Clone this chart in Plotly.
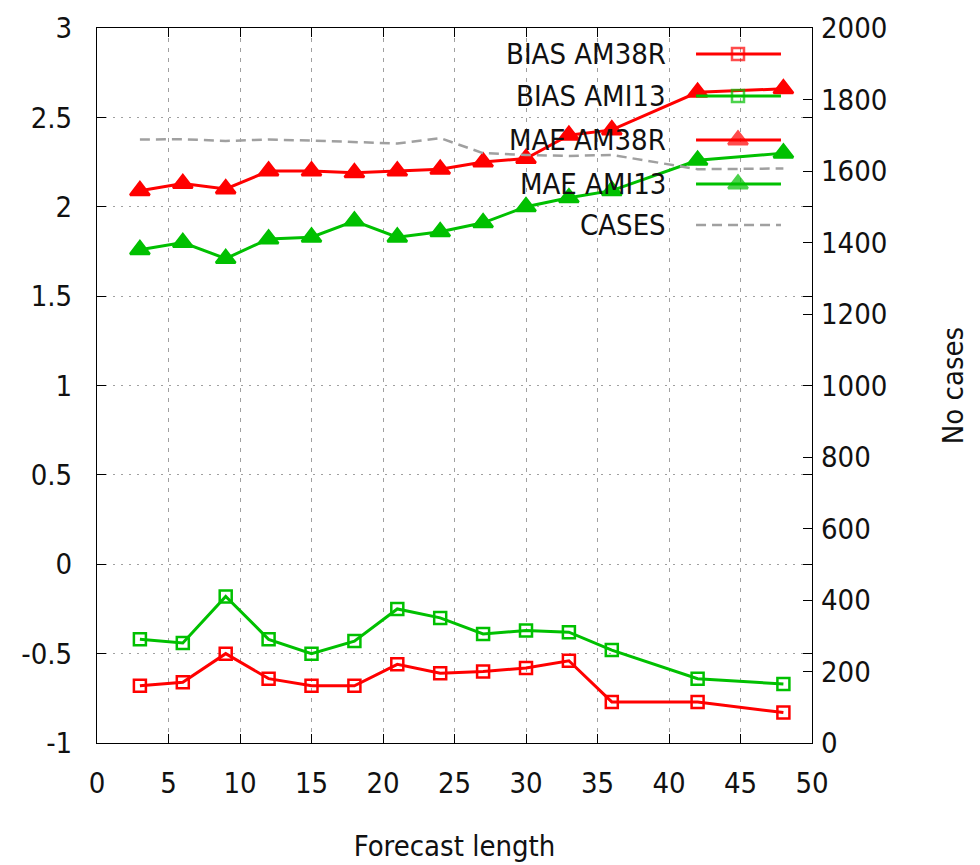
import plotly.graph_objects as go

# ---------------- data ----------------
forecast_length = [3, 6, 9, 12, 15, 18, 21, 24, 27, 30, 33, 36, 42, 48]
bias_am38r = [-0.68, -0.66, -0.50, -0.64, -0.68, -0.68, -0.56, -0.61, -0.60, -0.58, -0.54, -0.77, -0.77, -0.83]
bias_ami13 = [-0.42, -0.44, -0.18, -0.42, -0.50, -0.43, -0.25, -0.30, -0.39, -0.37, -0.38, -0.48, -0.64, -0.67]
mae_am38r = [2.09, 2.13, 2.10, 2.20, 2.20, 2.19, 2.20, 2.21, 2.25, 2.27, 2.40, 2.43, 2.64, 2.66]
mae_ami13 = [1.76, 1.80, 1.71, 1.82, 1.83, 1.92, 1.83, 1.86, 1.91, 2.00, 2.05, 2.09, 2.26, 2.30]
cases = [1688, 1689, 1684, 1688, 1685, 1680, 1677, 1692, 1650, 1645, 1642, 1645, 1605, 1607]

left_ticks = [-1, -0.5, 0, 0.5, 1, 1.5, 2, 2.5, 3]
left_tick_text = ["-1", "-0.5", "0", "0.5", "1", "1.5", "2", "2.5", "3"]
right_ticks = [0, 200, 400, 600, 800, 1000, 1200, 1400, 1600, 1800, 2000]
x_ticks = [0, 5, 10, 15, 20, 25, 30, 35, 40, 45, 50]

RED = "#ff0000"
GREEN = "#00c000"
GRAY = "#a0a0a0"
FONT = "DejaVu Sans Condensed, DejaVu Sans, sans-serif"
FS = 29

series = [
    dict(name="BIAS AM38R", y=bias_am38r, color=RED, symbol="square-open", size=12, axis="y", dash="solid"),
    dict(name="BIAS AMI13", y=bias_ami13, color=GREEN, symbol="square-open", size=12, axis="y", dash="solid"),
    dict(name="MAE AM38R", y=mae_am38r, color=RED, symbol="triangle-up", size=17, axis="y", dash="solid"),
    dict(name="MAE AMI13", y=mae_ami13, color=GREEN, symbol="triangle-up", size=17, axis="y", dash="solid"),
    dict(name="CASES", y=cases, color=GRAY, symbol=None, size=0, axis="y2", dash="10px,6px"),
]

fig = go.Figure()
for s in series:
    if s["symbol"]:
        fig.add_trace(go.Scatter(
            x=forecast_length, y=s["y"], name=s["name"], yaxis=s["axis"],
            mode="lines+markers",
            line=dict(color=s["color"], width=3, dash=s["dash"]),
            marker=dict(symbol=s["symbol"], size=s["size"], color=s["color"],
                        line=dict(color=s["color"], width=2.5)),
            showlegend=False))
    else:
        fig.add_trace(go.Scatter(
            x=forecast_length, y=s["y"], name=s["name"], yaxis=s["axis"],
            mode="lines", line=dict(color=s["color"], width=2.5, dash=s["dash"]),
            showlegend=False))

# ---------------- custom gnuplot-style key (text left, sample right) ----------------
key_text_x = 0.7986
key_x0, key_xm, key_x1 = 0.8378, 0.8965, 0.9566
key_rows = [0.9636, 0.9049, 0.8434, 0.7818, 0.7245]
for s, ky in zip(series, key_rows):
    fig.add_annotation(x=key_text_x, y=ky, xref="paper", yref="paper", text=s["name"],
                       showarrow=False, xanchor="right", yanchor="middle",
                       font=dict(family=FONT, size=FS, color="#111111"))
    if s["symbol"]:
        fig.add_trace(go.Scatter(
            x=[key_x0, key_xm, key_x1], y=[ky, ky, ky], xaxis="x2", yaxis="y3",
            mode="lines+markers", line=dict(color=s["color"], width=3),
            marker=dict(symbol=s["symbol"], size=[0, s["size"], 0], color=s["color"],
                        line=dict(color=s["color"], width=2.5)),
            showlegend=False, hoverinfo="skip"))
    else:
        fig.add_trace(go.Scatter(
            x=[key_x0, key_x1], y=[ky, ky], xaxis="x2", yaxis="y3",
            mode="lines", line=dict(color=s["color"], width=2.5, dash=s["dash"]),
            showlegend=False, hoverinfo="skip"))

tickfont = dict(family=FONT, size=FS, color="#111111")
fig.update_layout(
    width=980, height=865,
    margin=dict(l=97, r=168, t=28, b=122),
    paper_bgcolor="white", plot_bgcolor="white",
    font=dict(family=FONT, size=FS, color="#111111"),
    showlegend=False,
    xaxis=dict(range=[0, 50], tickvals=x_ticks, ticks="inside", ticklen=9, tickcolor="black",
               showline=True, linecolor="black", linewidth=1, mirror="ticks",
               showgrid=True, gridcolor=GRAY, griddash="4px,6px", gridwidth=1,
               zeroline=False, tickfont=tickfont, ticklabelstandoff=14, automargin=False,
               title=dict(text="Forecast length", font=dict(family=FONT, size=FS), standoff=36)),
    yaxis=dict(range=[-1, 3], tickvals=left_ticks, ticktext=left_tick_text, ticks="inside", ticklen=9,
               tickcolor="black", showline=True, linecolor="black", linewidth=1, mirror="ticks",
               showgrid=True, gridcolor=GRAY, griddash="2px,6px", gridwidth=1,
               zeroline=False, tickfont=tickfont, ticklabelstandoff=18, automargin=False),
    yaxis2=dict(range=[0, 2000], tickvals=right_ticks, overlaying="y", side="right",
                ticks="inside", ticklen=9, tickcolor="black", showgrid=False, zeroline=False,
                showline=False, tickfont=tickfont, ticklabelstandoff=8, automargin=False,
                title=dict(text="No cases", font=dict(family=FONT, size=FS), standoff=56)),
    xaxis2=dict(range=[0, 1], overlaying="x", visible=False, fixedrange=True),
    yaxis3=dict(range=[0, 1], overlaying="y", visible=False, fixedrange=True),
)

fig.write_html("out.html")
